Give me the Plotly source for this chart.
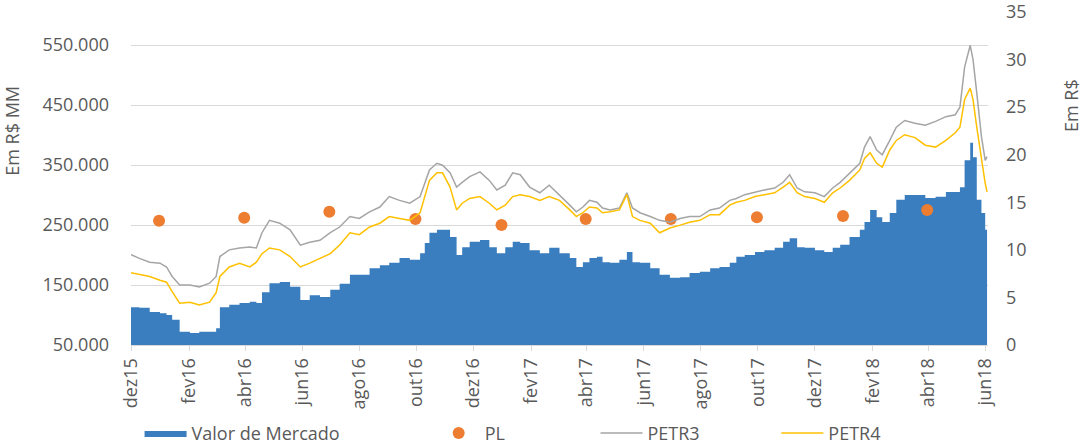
import plotly.graph_objects as go

dates = [
    "2015-12-01", "2015-12-10", "2015-12-21", "2016-01-01", "2016-01-08", "2016-01-14",
    "2016-01-22", "2016-02-02", "2016-02-12", "2016-02-23", "2016-03-01", "2016-03-05",
    "2016-03-15", "2016-03-26", "2016-04-06", "2016-04-13", "2016-04-19", "2016-04-27",
    "2016-05-08", "2016-05-19", "2016-05-30", "2016-06-09", "2016-06-20", "2016-07-01",
    "2016-07-11", "2016-07-22", "2016-08-01", "2016-08-12", "2016-08-23", "2016-09-02",
    "2016-09-13", "2016-09-24", "2016-10-05", "2016-10-10", "2016-10-15", "2016-10-23",
    "2016-10-29", "2016-11-06", "2016-11-13", "2016-11-19", "2016-11-27", "2016-12-08",
    "2016-12-18", "2016-12-26", "2017-01-04", "2017-01-12", "2017-01-20", "2017-01-30",
    "2017-02-10", "2017-02-20", "2017-03-03", "2017-03-14", "2017-03-21", "2017-03-28",
    "2017-04-04", "2017-04-12", "2017-04-18", "2017-04-26", "2017-05-06", "2017-05-14",
    "2017-05-20", "2017-05-28", "2017-06-08", "2017-06-18", "2017-06-29", "2017-07-10",
    "2017-07-20", "2017-07-31", "2017-08-11", "2017-08-21", "2017-09-01", "2017-09-08",
    "2017-09-17", "2017-09-28", "2017-10-08", "2017-10-19", "2017-10-28", "2017-11-04",
    "2017-11-12", "2017-11-20", "2017-12-01", "2017-12-11", "2017-12-20", "2017-12-28",
    "2018-01-07", "2018-01-18", "2018-01-23", "2018-01-29", "2018-02-05", "2018-02-11",
    "2018-02-19", "2018-02-26", "2018-03-07", "2018-03-18", "2018-03-29", "2018-04-09",
    "2018-04-20", "2018-04-30", "2018-05-05", "2018-05-10", "2018-05-16", "2018-05-19",
    "2018-05-23", "2018-05-28", "2018-06-01", "2018-06-03",
]

# Valor de Mercado (R$ MM)
valor_mercado = [
    113000, 112000, 105000, 103000, 100000, 92000, 72000, 70000, 72000, 72000,
    78000, 113000, 117000, 120000, 122000, 120000, 138000, 153000, 155000, 147000,
    125000, 133000, 130000, 142000, 152000, 167000, 167000, 178000, 183000, 187000,
    195000, 192000, 203000, 220000, 237000, 242000, 242000, 230000, 200000, 213000,
    222000, 225000, 213000, 203000, 213000, 222000, 220000, 208000, 203000, 212000,
    203000, 195000, 180000, 188000, 195000, 197000, 188000, 187000, 192000, 205000,
    188000, 187000, 178000, 167000, 162000, 163000, 170000, 172000, 178000, 180000,
    187000, 197000, 200000, 205000, 208000, 212000, 222000, 228000, 213000, 212000,
    208000, 205000, 212000, 217000, 230000, 242000, 255000, 275000, 263000, 255000,
    270000, 292000, 300000, 300000, 295000, 297000, 305000, 305000, 313000, 358000,
    387000, 363000, 292000, 270000, 242000, 247000,
]

# PETR3 (R$)
petr3 = [
    9.5, 9.1, 8.7, 8.6, 8.2, 7.2, 6.3, 6.3, 6.1, 6.5,
    7.2, 9.3, 10.0, 10.2, 10.3, 10.2, 11.8, 13.1, 12.8, 12.1,
    10.5, 10.8, 11.0, 11.8, 12.4, 13.5, 13.3, 14.0, 14.5, 15.6,
    15.2, 14.9, 15.6, 17.0, 18.4, 19.1, 18.9, 18.1, 16.6, 17.1,
    17.7, 18.2, 17.3, 16.3, 16.8, 18.1, 17.9, 16.6, 16.0, 16.8,
    15.8, 14.7, 14.0, 14.5, 15.2, 15.0, 14.4, 14.2, 14.4, 16.0,
    14.4, 13.9, 13.5, 13.1, 12.9, 13.3, 13.5, 13.5, 14.2, 14.4,
    15.2, 15.4, 15.8, 16.1, 16.3, 16.5, 17.1, 17.9, 16.5, 16.1,
    16.0, 15.6, 16.5, 17.1, 18.1, 19.1, 20.8, 21.9, 20.5, 20.0,
    21.5, 22.9, 23.6, 23.3, 23.1, 23.5, 24.0, 24.2, 25.0, 29.2,
    31.5, 30.0, 26.5, 21.9, 19.4, 19.8,
]

# PETR4 (R$)
petr4 = [
    7.6, 7.4, 7.2, 6.8, 6.6, 5.6, 4.4, 4.5, 4.2, 4.5,
    5.5, 7.2, 8.2, 8.6, 8.2, 8.7, 9.6, 10.2, 10.0, 9.3,
    8.2, 8.6, 9.1, 9.6, 10.5, 11.8, 11.6, 12.4, 12.8, 13.5,
    13.3, 13.1, 13.9, 15.6, 17.3, 18.1, 18.1, 16.6, 14.2, 14.9,
    15.4, 15.6, 14.9, 14.2, 14.7, 15.6, 15.8, 15.6, 15.2, 15.6,
    15.2, 14.2, 13.5, 13.9, 14.5, 14.4, 13.9, 14.0, 14.2, 15.8,
    13.5, 13.1, 12.8, 11.8, 12.3, 12.6, 12.9, 13.1, 13.7, 13.7,
    14.7, 15.0, 15.2, 15.6, 15.8, 16.0, 16.6, 17.1, 16.0, 15.6,
    15.4, 15.0, 16.0, 16.5, 17.3, 18.4, 19.6, 20.2, 19.1, 18.7,
    20.5, 21.5, 22.1, 21.8, 21.0, 20.8, 21.5, 22.3, 22.9, 25.8,
    27.0, 25.8, 22.9, 19.4, 17.0, 16.1,
]

# PL (R$ MM), quarterly
pl_dates = [
    "2015-12-31", "2016-03-31", "2016-06-30", "2016-09-30", "2016-12-31",
    "2017-03-31", "2017-06-30", "2017-09-30", "2017-12-31", "2018-03-31",
]
pl = [257000, 262000, 272000, 260000, 250000, 260000, 260000, 263000, 265000, 275000]

tick_dates = [
    "2015-12-01", "2016-02-01", "2016-04-01", "2016-06-01", "2016-08-01", "2016-10-01",
    "2016-12-01", "2017-02-01", "2017-04-01", "2017-06-01", "2017-08-01", "2017-10-01",
    "2017-12-01", "2018-02-01", "2018-04-01", "2018-06-01",
]
tick_labels = [
    "dez15", "fev16", "abr16", "jun16", "ago16", "out16", "dez16", "fev17",
    "abr17", "jun17", "ago17", "out17", "dez17", "fev18", "abr18", "jun18",
]

TEXT = "#595959"
FONT = "Open Sans"

fig = go.Figure()
fig.add_trace(go.Scatter(
    x=dates, y=valor_mercado, name="Valor de Mercado",
    mode="lines", line=dict(width=0, shape="hv", color="#3A7EBF"),
    fill="tozeroy", fillcolor="#3A7EBF", legend="legend5",
))
fig.add_trace(go.Scatter(
    x=pl_dates, y=pl, name="PL", mode="markers",
    marker=dict(size=12, color="#ED7D31"), legend="legend2",
))
fig.add_trace(go.Scatter(
    x=dates, y=petr3, name="PETR3", mode="lines", yaxis="y2",
    line=dict(width=1.5, color="#A5A5A5"), legend="legend3",
))
fig.add_trace(go.Scatter(
    x=dates, y=petr4, name="PETR4", mode="lines", yaxis="y2",
    line=dict(width=1.5, color="#FFC000"), legend="legend4",
))

leg = dict(orientation="h", yanchor="middle", y=-0.265, xanchor="left",
           bgcolor="rgba(0,0,0,0)", font=dict(family=FONT, size=18, color=TEXT),
           itemwidth=42)
fig.update_layout(
    width=1082, height=447,
    margin=dict(l=131, r=94, t=12, b=102, autoexpand=False),
    paper_bgcolor="white", plot_bgcolor="white",
    separators=",.",
    font=dict(family=FONT, size=18, color=TEXT),
    showlegend=True,
    legend5=dict(leg, x=0.01),
    legend2=dict(leg, x=0.352),
    legend3=dict(leg, x=0.542),
    legend4=dict(leg, x=0.753),
    xaxis=dict(
        type="date", range=["2015-12-01", "2018-06-04"],
        tickvals=tick_dates, ticktext=tick_labels, tickangle=-90,
        showgrid=False, showline=True, linecolor="#D9D9D9",
        ticks="outside", ticklen=5, tickcolor="#D9D9D9",
    ),
    yaxis=dict(
        range=[50000, 605000], tickvals=[50000, 150000, 250000, 350000, 450000, 550000],
        tickformat=",d", showgrid=True, gridcolor="#D9D9D9", zeroline=False,
        ticklabelstandoff=21,
    ),
    yaxis2=dict(
        overlaying="y", side="right", range=[0, 35], dtick=5,
        showgrid=False, zeroline=False, ticklabelstandoff=17,
        ticklabeloverflow="allow",
    ),
    annotations=[
        dict(text="Em R$ MM", xref="paper", yref="paper", x=-0.139, y=0.643,
             xanchor="center", yanchor="middle",
             textangle=-90, showarrow=False, font=dict(size=18, color=TEXT)),
        dict(text="Em R$", xref="paper", yref="paper", x=1.097, y=0.718,
             xanchor="center", yanchor="middle",
             textangle=-90, showarrow=False, font=dict(size=18, color=TEXT)),
    ],
)

# drop the default 8px body margin so the figure sits at the window's corner
fig.write_html("out.html", config={"displayModeBar": False},
               post_script="document.body.style.margin='0';")
